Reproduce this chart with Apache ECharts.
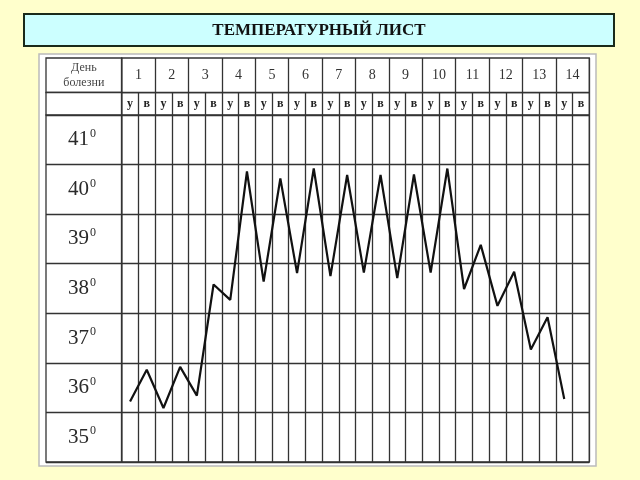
<!DOCTYPE html>
<html><head><meta charset="utf-8">
<script src="https://cdn.jsdelivr.net/npm/echarts/dist/echarts.min.js"></script>
<style>html,body{margin:0;padding:0;background:#FFFFCC;} #c{width:640px;height:480px;}</style>
</head><body><div id="c"></div>
<script>
const titleText = 'ТЕМПЕРАТУРНЫЙ ЛИСТ';
const rowHeader = 'День\nболезни';
const days = ['1','2','3','4','5','6','7','8','9','10','11','12','13','14'];
const dayParts = ['у','в'];
const tempLabels = ['35','36','37','38','39','40','41'];
const temps = [36.22, 36.86, 36.09, 36.92, 36.34, 38.58, 38.27, 40.86, 38.64, 40.72,
               38.81, 40.92, 38.75, 40.79, 38.82, 40.79, 38.71, 40.80, 38.82, 40.92,
               38.49, 39.38, 38.15, 38.84, 37.27, 37.92, 36.27, null];

const halfDays = days.flatMap(() => dayParts);
const LINE = '#333';
const SERIF = '"Liberation Serif", "DejaVu Serif", serif';
const gridBase = {show: true, backgroundColor: '#fff', borderColor: LINE, borderWidth: 1.3, containLabel: false, outerBoundsMode: 'none'};
const split = {show: true, interval: 0, lineStyle: {color: LINE, width: 1.3}};
const L0 = 46, L1 = 121.7, W0 = L1 - L0, W1 = 589.3 - L1;
const T0 = 58, T1 = 92.5, T2 = 115, B = 462;

const chart = echarts.init(document.getElementById('c'), null, {renderer: 'canvas'});
chart.setOption({
  backgroundColor: '#FFFFCC',
  animation: false,
  graphic: [
    {type: 'rect', z: -10, shape: {x: 39, y: 54, width: 557, height: 412},
     style: {fill: '#fff', stroke: '#bbb', lineWidth: 1.5}},
    {type: 'rect', shape: {x: 24, y: 14, width: 590, height: 32},
     style: {fill: '#CCFFFF', stroke: '#1a2a1a', lineWidth: 2}},
    {type: 'text', x: 319, y: 31, style: {text: titleText, fill: '#111',
      font: 'bold 17px ' + SERIF, align: 'center', verticalAlign: 'middle'}},
    {type: 'text', x: (L0 + L1) / 2, y: 75, z: 10, style: {text: rowHeader, fill: '#444',
      font: '12px ' + SERIF, lineHeight: 15, align: 'center', verticalAlign: 'middle'}}
  ],
  grid: [
    Object.assign({left: L1, top: T2, width: W1, height: B - T2}, gridBase),
    Object.assign({left: L0, top: T2, width: W0, height: B - T2}, gridBase),
    Object.assign({left: L1, top: T1, width: W1, height: T2 - T1}, gridBase),
    Object.assign({left: L1, top: T0, width: W1, height: T1 - T0}, gridBase),
    Object.assign({left: L0, top: T0, width: W0, height: T1 - T0}, gridBase),
    Object.assign({left: L0, top: T1, width: W0, height: T2 - T1}, gridBase)
  ],
  xAxis: [
    {gridIndex: 0, type: 'category', data: halfDays, boundaryGap: true,
     axisLine: {show: false}, axisTick: {show: false}, axisLabel: {show: false}, splitLine: split},
    {gridIndex: 1, type: 'value', show: false},
    {gridIndex: 2, type: 'category', data: halfDays, boundaryGap: true, position: 'bottom',
     axisLine: {show: false}, axisTick: {show: false}, splitLine: split,
     axisLabel: {inside: true, margin: 11.5, interval: 0, verticalAlign: 'middle', color: '#222',
       fontFamily: SERIF, fontSize: 12, fontWeight: 'bold'}},
    {gridIndex: 3, type: 'category', data: days, boundaryGap: true, position: 'bottom',
     axisLine: {show: false}, axisTick: {show: false}, splitLine: split,
     axisLabel: {inside: true, margin: 17, interval: 0, verticalAlign: 'middle', color: '#333',
       fontFamily: SERIF, fontSize: 14}}
  ],
  yAxis: [
    {gridIndex: 0, type: 'value', min: 35, max: 42, interval: 1,
     axisLine: {show: false}, axisTick: {show: false}, axisLabel: {show: false}, splitLine: split},
    {gridIndex: 1, type: 'category', data: tempLabels, boundaryGap: true, position: 'left',
     axisLine: {show: false}, axisTick: {show: false}, splitLine: split,
     axisLabel: {inside: true, margin: 36, interval: 0, align: 'center', verticalAlign: 'middle',
       formatter: v => '{n|' + v + '}{s|0}',
       rich: {n: {fontFamily: SERIF, fontSize: 21, color: '#2a2a2a'},
              s: {fontFamily: SERIF, fontSize: 12, color: '#2a2a2a', padding: [0, 0, 12, 1]}}}},
    {gridIndex: 2, type: 'value', show: false},
    {gridIndex: 3, type: 'value', show: false}
  ],
  series: [{
    type: 'line', xAxisIndex: 0, yAxisIndex: 0, data: temps,
    symbol: 'none', showSymbol: false, z: 5,
    lineStyle: {color: '#111', width: 2.2}
  }]
});
</script></body></html>
